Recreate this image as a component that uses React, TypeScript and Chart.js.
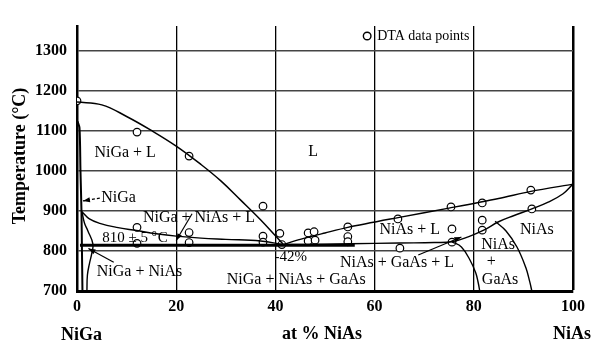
import { useEffect, useRef } from "react";
import { Chart, registerables } from "chart.js";

Chart.register(...registerables);

const FONT = "'Liberation Serif', 'Times New Roman', serif";

// axis ticks
const xTickValues = [0, 20, 40, 60, 80, 100];
const yTickValues = [700, 800, 900, 1000, 1100, 1200, 1300];

// liquidus, NiGa side
const liqLeftX = [0, 5, 10, 15, 20, 25, 29, 33, 37, 40, 41.6];
const liqLeftT = [1172, 1165, 1136, 1101, 1062, 1016, 975, 927, 878, 838, 816];

// liquidus, NiAs side
const liqRightX = [41.6, 45, 50, 54.6, 65, 75, 85, 91.5, 100];
const liqRightT = [816, 829, 845, 859, 884, 907, 931, 949, 967];

// three-phase horizontal line
const eutecticX = [0.6, 56];
const eutecticT = [814, 814];

// NiGa + NiAs + L lower boundary (from NiGa side)
const upperSolvusX = [1, 2.5, 4.6, 8, 12, 16, 20, 25, 30, 37, 41.6];
const upperSolvusT = [898, 880, 869, 859, 851, 843, 837, 832, 829, 825, 816];

// NiGa solvus
const nigaSolvusX = [1, 1.5, 2.2, 3.2, 3.0, 2.5, 2.1, 2.0];
const nigaSolvusT = [898, 870, 850, 818, 795, 768, 740, 700];

// narrow NiGa phase boundary
const nigaPhaseX = [0.1, 0.5, 0.7, 0.9, 1.0, 1.1];
const nigaPhaseT = [1124, 1108, 1000, 900, 800, 700];

// NiAs + L lower boundary
const niasLowerX = [41.6, 50, 55, 65, 72, 75.6, 79, 82, 85, 88, 91.7, 95, 98, 100];
const niasLowerT = [816, 817, 818, 820, 821, 823, 836, 852, 873, 888, 905, 922, 943, 967];

// NiAs + GaAs region boundaries
const curveAX = [75.6, 77.5, 79.2, 80.4, 80.9, 81.2];
const curveAT = [823, 810, 778, 745, 720, 700];
const curveBX = [84.3, 86.5, 88.7, 90.5, 91.3, 91.7];
const curveBT = [874, 850, 810, 758, 722, 700];

// DTA data points
const dtaX = [0, 12.1, 22.6, 37.5, 12.1, 12.1, 22.6, 22.6, 37.5, 37.5, 40.9, 41.3, 46.6, 47.8, 46.6, 48, 54.6, 54.6, 54.6, 64.7, 65.1, 75.4, 75.6, 75.6, 81.7, 81.7, 81.7, 91.5, 91.7];
const dtaT = [1175, 1097, 1037, 912, 859, 819, 846, 821, 837, 822, 844, 816, 845, 848, 825, 827, 860, 836, 823, 880, 807, 910, 855, 822, 920, 877, 852, 952, 905];

// legend marker
const legendX = [58.5];
const legendT = [1337];
const legendText = "DTA data points";

// region labels
const labelText = ["NiGa + L", "L", "NiGa + NiAs + L", "NiGa + NiAs", "-42%", "NiGa + NiAs + GaAs", "NiAs + GaAs + L", "NiAs + L", "NiAs", "+", "GaAs", "NiAs"];
const labelX = [9.7, 47.6, 24.6, 12.6, 43.1, 44.2, 64.5, 67.1, 84.9, 83.5, 85.3, 92.7];
const labelT = [1045, 1047, 882, 747, 785, 727, 770, 852, 815, 772, 727, 852];

// arrows
const arrowFromX = [4.6, 23.2, 7.4, 68.8];
const arrowFromT = [932, 893, 772, 790];
const arrowToX = [1.2, 20, 2.3, 77.5];
const arrowToT = [925, 826, 806, 835];
const arrowDashed = [true, false, false, false];

const pts = (xs: number[], ys: number[]) => xs.map((x, i) => ({ x, y: ys[i] }));

const lineDs = (xs: number[], ys: number[], width: number, tension: number) => ({
  data: pts(xs, ys),
  showLine: true,
  borderColor: "#000",
  borderWidth: width,
  pointRadius: 0,
  tension,
  fill: false,
});

const annotPlugin = {
  id: "annot",
  afterDatasetsDraw(chart: any) {
    const { ctx, scales } = chart;
    const xs = scales.x;
    const ys = scales.y;
    const px = (v: number) => xs.getPixelForValue(v);
    const py = (v: number) => ys.getPixelForValue(v);
    ctx.save();
    ctx.fillStyle = "#000";
    ctx.strokeStyle = "#000";

    // region labels
    ctx.textAlign = "center";
    ctx.textBaseline = "middle";
    labelText.forEach((t, i) => {
      ctx.font = (t === "-42%" ? "15px " : "16px ") + FONT;
      ctx.fillText(t, px(labelX[i]), py(labelT[i]));
    });

    // NiGa arrow label
    ctx.textAlign = "left";
    ctx.font = "16px " + FONT;
    ctx.fillText("NiGa", px(4.9), py(933));

    // 810 ± 5 °C
    ctx.font = "15px " + FONT;
    const bx = px(5.1);
    const by = py(832);
    const part1 = "810 ± 5 ";
    ctx.fillText(part1, bx, by);
    let w = ctx.measureText(part1).width;
    ctx.font = "10px " + FONT;
    ctx.fillText("o", bx + w, by - 5);
    w += ctx.measureText("o").width + 1;
    ctx.font = "15px " + FONT;
    ctx.fillText("C", bx + w, by);

    // legend text
    ctx.font = "14px " + FONT;
    ctx.fillText(legendText, px(legendX[0]) + 10, py(legendT[0]));

    // arrows
    arrowFromX.forEach((_, i) => {
      const x1 = px(arrowFromX[i]);
      const y1 = py(arrowFromT[i]);
      const x2 = px(arrowToX[i]);
      const y2 = py(arrowToT[i]);
      ctx.lineWidth = 1.2;
      ctx.setLineDash(arrowDashed[i] ? [3, 2] : []);
      ctx.beginPath();
      ctx.moveTo(x1, y1);
      ctx.lineTo(x2, y2);
      ctx.stroke();
      ctx.setLineDash([]);
      const a = Math.atan2(y2 - y1, x2 - x1);
      const L = 7;
      const h = 2.6;
      ctx.beginPath();
      ctx.moveTo(x2, y2);
      ctx.lineTo(x2 - L * Math.cos(a) + h * Math.sin(a), y2 - L * Math.sin(a) - h * Math.cos(a));
      ctx.lineTo(x2 - L * Math.cos(a) - h * Math.sin(a), y2 - L * Math.sin(a) + h * Math.cos(a));
      ctx.closePath();
      ctx.fill();
    });

    // axis titles
    ctx.font = "bold 18px " + FONT;
    ctx.textAlign = "center";
    ctx.fillText("NiGa", 81.5, 335);
    ctx.fillText("at % NiAs", 322, 334);
    ctx.fillText("NiAs", 572, 334);
    ctx.translate(20, 156);
    ctx.rotate(-Math.PI / 2);
    ctx.fillText("Temperature (°C)", 0, 0);
    ctx.restore();
  },
};

export default function App() {
  const ref = useRef<HTMLCanvasElement | null>(null);
  useEffect(() => {
    if (!ref.current) return;
    const chart = new Chart(ref.current, {
      type: "scatter",
      data: {
        datasets: [
          lineDs(liqLeftX, liqLeftT, 1.5, 0.4),
          lineDs(liqRightX, liqRightT, 1.4, 0.3),
          lineDs(eutecticX, eutecticT, 3, 0),
          lineDs(upperSolvusX, upperSolvusT, 1.4, 0.4),
          lineDs(nigaSolvusX, nigaSolvusT, 1.4, 0.4),
          lineDs(nigaPhaseX, nigaPhaseT, 2, 0.3),
          lineDs(niasLowerX, niasLowerT, 1.4, 0.4),
          lineDs(curveAX, curveAT, 1.4, 0.4),
          lineDs(curveBX, curveBT, 1.4, 0.4),
          {
            data: pts(dtaX, dtaT),
            showLine: false,
            pointRadius: 3.8,
            pointBackgroundColor: "#fff",
            pointBorderColor: "#000",
            pointBorderWidth: 1.2,
          } as any,
          {
            data: pts(legendX, legendT),
            showLine: false,
            pointRadius: 3.8,
            pointBackgroundColor: "#fff",
            pointBorderColor: "#000",
            pointBorderWidth: 1.4,
          } as any,
        ],
      },
      options: {
        responsive: false,
        animation: false,
        devicePixelRatio: 1,
        layout: { padding: { top: 26, right: 27, left: 0, bottom: 0 } },
        plugins: { legend: { display: false }, tooltip: { enabled: false }, title: { display: false } },
        scales: {
          x: {
            type: "linear",
            min: 0,
            max: 100,
            afterFit: (s: any) => {
              s.height = 68;
            },
            afterBuildTicks: (s: any) => {
              s.ticks = xTickValues.map((v) => ({ value: v }));
            },
            ticks: {
              color: "#000",
              font: { family: FONT, size: 16, weight: "bold" },
              padding: 6,
              maxRotation: 0,
              callback: (v: any) => String(v),
            },
            grid: {
              color: "#000",
              lineWidth: (c: any) => (c.tick && c.tick.value === 100 ? 2.5 : 1.3),
              drawTicks: false,
            },
            border: { display: true, color: "#000", width: 3 },
          },
          y: {
            type: "linear",
            min: 700,
            max: 1362,
            afterFit: (s: any) => {
              s.width = 77;
            },
            afterBuildTicks: (s: any) => {
              s.ticks = yTickValues.map((v) => ({ value: v }));
            },
            ticks: {
              color: "#000",
              font: { family: FONT, size: 16, weight: "bold" },
              padding: 10,
              callback: (v: any) => String(v),
            },
            grid: {
              color: "#444",
              lineWidth: 1.4,
              drawTicks: false,
            },
            border: { display: true, color: "#000", width: 2.5 },
          },
        },
      } as any,
      plugins: [annotPlugin],
    });
    return () => chart.destroy();
  }, []);
  return (
    <div style={{ position: "fixed", left: 0, top: 0, width: 600, height: 359, background: "#fff" }}>
      <canvas ref={ref} width={600} height={359} style={{ width: 600, height: 359, display: "block" }} />
    </div>
  );
}
